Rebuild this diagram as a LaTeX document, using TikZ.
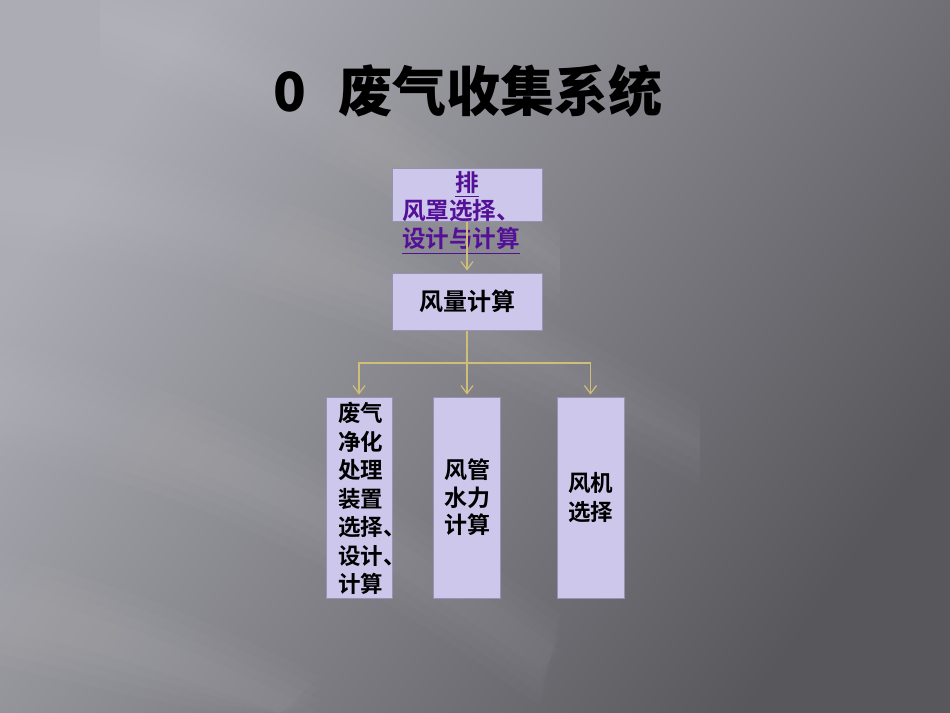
\documentclass[tikz,border=0pt]{standalone}
\usepackage{fontspec}
\setmainfont{Noto Sans CJK SC}[BoldFont={Noto Sans CJK SC Bold}]
\newfontfamily\titlefont{Noto Sans CJK SC Black}
\usetikzlibrary{arrows.meta,positioning}
\definecolor{bgleft}{RGB}{172,172,180}
\definecolor{bgmid}{RGB}{116,115,122}
\definecolor{bgright}{RGB}{88,87,92}
\definecolor{boxfill}{RGB}{205,199,235}
\definecolor{boxline}{RGB}{150,146,180}
\definecolor{linkcol}{RGB}{206,190,120}
\definecolor{hoodcol}{RGB}{84,16,150}
\tikzset{
  box/.style={draw=boxline, fill=boxfill, line width=0.5pt, inner sep=0pt, font=\bfseries},
  boxtext/.style={inner sep=0pt, align=left, font=\bfseries\fontsize{11.25}{14.25}\selectfont},
  link/.style={draw=linkcol, line width=0.6pt, shorten >=1pt, -{Straight Barb[length=4pt,width=6pt]}},
  streak/.style={fill=white, opacity=0.018},
}

\begin{document}
\begin{tikzpicture}[x=0.5pt,y=-0.5pt]
\useasboundingbox (0,0) rectangle (950,713);
% background
\begin{scope}
\clip (0,0) rectangle (950,713);
\shade[left color=bgleft, middle color=bgmid, right color=bgright, shading angle=55] (0,0) rectangle (950,713);
\foreach \w in {0,12,24,36} {
  \fill[streak] (0,170-\w) .. controls (250,200-\w) and (450,300-\w) .. (700,440-\w) -- (700,450+\w) .. controls (450,320+\w) and (250,230+\w) .. (0,210+\w) -- cycle;
  \fill[streak] (0,380-\w) .. controls (200,420-\w) and (380,520-\w) .. (560,650-\w) -- (540,670+\w) .. controls (360,540+\w) and (200,450+\w) .. (0,420+\w) -- cycle;
  \fill[streak] (0,590-\w) .. controls (120,620-\w) and (220,660-\w) .. (320,713-\w) -- (280,713) .. controls (190,680+\w) and (100,650+\w) .. (0,630+\w) -- cycle;
  \fill[streak] (100,10-\w) .. controls (260,60-\w) and (400,140-\w) .. (560,260-\w) -- (560,270+\w) .. controls (400,160+\w) and (260,80+\w) .. (100,30+\w) -- cycle;
}
\end{scope}

% title
\node[font=\titlefont\fontsize{27}{30}\selectfont] (title) at (468,91) {0\hspace{0.6em}废气收集系统};

% boxes
\node[box, minimum width=75pt, minimum height=26.5pt] (hood) at (467,194.5) {};
\node[inner sep=0pt, align=left, text=hoodcol, font=\bfseries\fontsize{11.8}{14}\selectfont] (hoodtext) at (461,213)
  {\makebox[5em]{\hspace*{0.5em}\underline{排}}\\风罩选择、\\\underline{设计与计算}};
\node[box, minimum width=75pt, minimum height=28.5pt, font=\bfseries\fontsize{12}{14}\selectfont] (flow) at (467,301.5) {风量计算};

\node[box, minimum width=33pt, minimum height=100.5pt] (unit) at (359,497.5) {};
\node[boxtext, anchor=west] (unittext) at (338,498.5) {废气\\净化\\处理\\装置\\选择、\\设计、\\计算};
\node[box, minimum width=33.5pt, minimum height=100.5pt, align=center, font=\bfseries\fontsize{11.5}{13.75}\selectfont] (pipe) at (467,497.5) {风管\\水力\\计算};
\node[box, minimum width=33.5pt, minimum height=100.5pt, align=center, font=\bfseries\fontsize{11.25}{14.5}\selectfont] (fan) at (590.5,497.5) {风机\\选择};

% connectors
\coordinate (split) at (467,363);
\draw[link] (hood.south) -- (flow.north);
\draw[draw=linkcol, line width=0.6pt] (flow.south) -- (split);
\draw[link] (split) -- (pipe.north);
\draw[link] (split) -| (unit.north);
\draw[link] (split) -| (fan.north);
\end{tikzpicture}
\end{document}
